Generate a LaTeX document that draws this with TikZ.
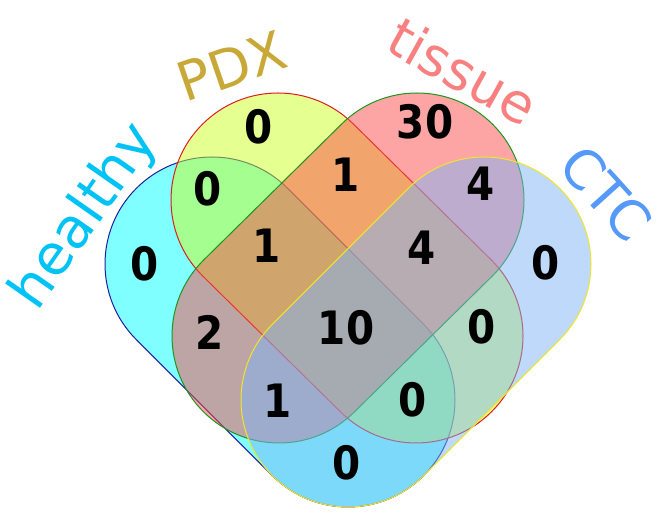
\documentclass[tikz,border=0pt]{standalone}
\usepackage{fontspec}
\setmainfont{DejaVu Sans}
\newfontfamily\numfont[FakeStretch=0.88]{DejaVu Sans}
\usetikzlibrary{calc}
\definecolor{hfill}{RGB}{0,255,255}
\definecolor{hline}{RGB}{30,30,160}
\definecolor{pfill}{RGB}{205,255,35}
\definecolor{pline}{RGB}{220,30,30}
\definecolor{tfill}{RGB}{252,75,75}
\definecolor{tline}{RGB}{30,150,30}
\definecolor{cfill}{RGB}{125,180,245}
\definecolor{cline}{RGB}{240,230,40}
\definecolor{hlab}{RGB}{0,195,245}
\definecolor{plab}{RGB}{200,168,55}
\definecolor{tlab}{RGB}{248,128,128}
\definecolor{clab}{RGB}{85,153,250}
\newcommand{\Rcap}{107}
\newcommand{\capsule}[4]{%
  \path[#4] (#1) ++(#3+90:\Rcap) arc[start angle=#3+90, end angle=#3+270, radius=\Rcap]
    -- ($(#2)+(#3-90:\Rcap)$) arc[start angle=#3-90, end angle=#3+90, radius=\Rcap] -- cycle;}
\begin{document}
\begin{tikzpicture}[x=1pt,y=1pt,
  setshape/.style={fill opacity=0.5, draw opacity=1, line width=1pt},
  num/.style={inner sep=0pt, font=\numfont\fontsize{46}{46}\selectfont\bfseries},
  lab/.style={inner sep=0pt, font=\fontsize{54}{54}\selectfont}]
\useasboundingbox (0,0) rectangle (661,519);
\coordinate (hA) at (212,255); \coordinate (hB) at (348,119);
\coordinate (pA) at (278,319); \coordinate (pB) at (416,183);
\coordinate (tA) at (417,319); \coordinate (tB) at (279,183);
\coordinate (cA) at (484,255); \coordinate (cB) at (348,119);
\capsule{hA}{hB}{-45}{setshape, fill=hfill, draw=hline}
\capsule{pA}{pB}{-45}{setshape, fill=pfill, draw=pline}
\capsule{tA}{tB}{-135}{setshape, fill=tfill, draw=tline}
\capsule{cA}{cB}{-135}{setshape, fill=cfill, draw=cline}
% numbers
\node[num] (n1) at (145,255) {0};
\node[num] (n2) at (259,392) {0};
\node[num] (n3) at (425,397) {30};
\node[num] (n4) at (546,256) {0};
\node[num] (n5) at (208,330) {0};
\node[num] (n6) at (346,344) {1};
\node[num] (n7) at (481,335) {4};
\node[num] (n8) at (267,273) {1};
\node[num] (n9) at (422,271) {4};
\node[num] (n10) at (210,187) {2};
\node[num] (n11) at (346,191) {10};
\node[num] (n12) at (482,192) {0};
\node[num] (n13) at (278,118) {1};
\node[num] (n14) at (413,119) {0};
\node[num] (n15) at (347,56) {0};
% labels
\node[lab, text=hlab, rotate=55, font=\fontsize{56}{56}\selectfont] (lh) at (85,302) {healthy};
\node[lab, text=plab, rotate=19] (lp) at (232,453) {PDX};
\node[lab, text=tlab, rotate=-29] (lt) at (463,448) {tissue};
\node[lab, text=clab, rotate=-48] (lc) at (606,326) {CTC};
\end{tikzpicture}
\end{document}
